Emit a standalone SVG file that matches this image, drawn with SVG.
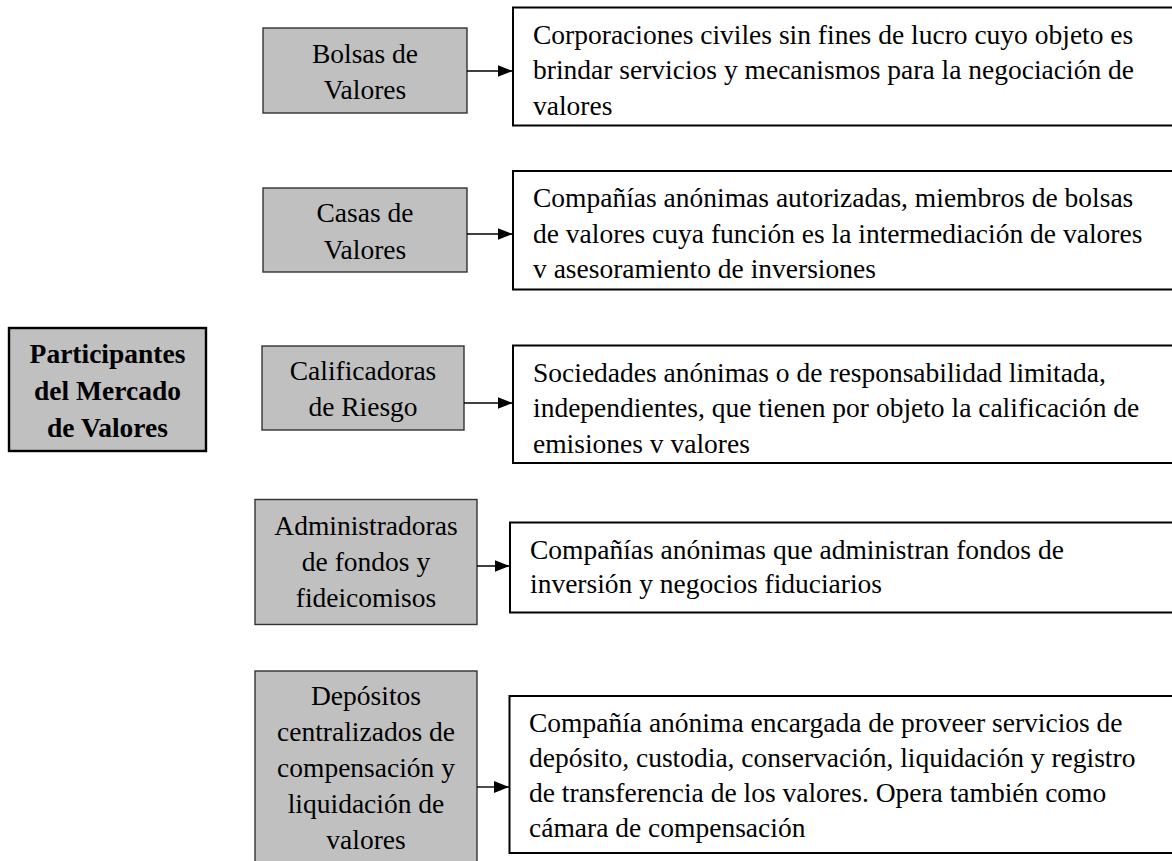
<svg xmlns="http://www.w3.org/2000/svg" width="1172" height="861" viewBox="0 0 1172 861">
<style>
.gray{fill:#c0c0c0;stroke:#333;stroke-width:1.4}
.main{fill:#c0c0c0;stroke:#000;stroke-width:2.4}
.desc{fill:#fff;stroke:#000;stroke-width:2}
.t{font-family:"Liberation Serif","Times New Roman",serif;font-size:27.5px;fill:#000}
.c{text-anchor:middle}
.b{font-weight:bold}
.conn{stroke:#000;stroke-width:1.4;fill:none}
</style>
<defs>
<marker id="arr" markerUnits="userSpaceOnUse" markerWidth="15" markerHeight="12" refX="15" refY="6" orient="auto">
<path d="M0,0 L15,6 L0,12 z" fill="#000"/>
</marker>
</defs>
<rect width="1172" height="861" fill="#fff"/>

<g id="participantes">
<rect class="main" x="9" y="328" width="197" height="123"/>
<text class="t c b" x="107.5" y="363">Participantes</text>
<text class="t c b" x="107.5" y="400">del Mercado</text>
<text class="t c b" x="107.5" y="436.5">de Valores</text>
</g>

<g id="bolsas">
<rect class="gray" x="263" y="28" width="204" height="85"/>
<text class="t c" x="365" y="63">Bolsas de</text>
<text class="t c" x="365" y="99">Valores</text>
</g>
<g id="bolsas-desc">
<rect class="desc" x="513" y="7.5" width="680" height="118"/>
<text class="t" x="533" y="43.5">Corporaciones civiles sin fines de lucro cuyo objeto es</text>
<text class="t" x="533" y="79">brindar servicios y mecanismos para la negociación de</text>
<text class="t" x="533" y="114.5">valores</text>
</g>

<g id="casas">
<rect class="gray" x="263" y="188" width="204" height="84"/>
<text class="t c" x="365" y="222">Casas de</text>
<text class="t c" x="365" y="258.5">Valores</text>
</g>
<g id="casas-desc">
<rect class="desc" x="513" y="171" width="680" height="118.5"/>
<text class="t" x="533" y="207">Compañías anónimas autorizadas, miembros de bolsas</text>
<text class="t" x="533" y="242.5">de valores cuya función es la intermediación de valores</text>
<text class="t" x="533" y="278">v asesoramiento de inversiones</text>
</g>

<g id="calificadoras">
<rect class="gray" x="262" y="346" width="202" height="84"/>
<text class="t c" x="363" y="380">Calificadoras</text>
<text class="t c" x="363" y="416">de Riesgo</text>
</g>
<g id="calificadoras-desc">
<rect class="desc" x="513" y="345.5" width="680" height="117.5"/>
<text class="t" x="533" y="381.5">Sociedades anónimas o de responsabilidad limitada,</text>
<text class="t" x="533" y="417">independientes, que tienen por objeto la calificación de</text>
<text class="t" x="533" y="452.5">emisiones v valores</text>
</g>

<g id="administradoras">
<rect class="gray" x="255" y="499.5" width="222" height="125"/>
<text class="t c" x="366" y="535">Administradoras</text>
<text class="t c" x="366" y="571">de fondos y</text>
<text class="t c" x="366" y="607">fideicomisos</text>
</g>
<g id="administradoras-desc">
<rect class="desc" x="510" y="522.5" width="680" height="90"/>
<text class="t" x="530" y="558.5">Compañías anónimas que administran fondos de</text>
<text class="t" x="530" y="593">inversión y negocios fiduciarios</text>
</g>

<g id="depositos">
<rect class="gray" x="255" y="671" width="222" height="220"/>
<text class="t c" x="366" y="705">Depósitos</text>
<text class="t c" x="366" y="741">centralizados de</text>
<text class="t c" x="366" y="777">compensación y</text>
<text class="t c" x="366" y="813">liquidación de</text>
<text class="t c" x="366" y="848.5">valores</text>
</g>
<g id="depositos-desc">
<rect class="desc" x="509.5" y="696" width="680" height="157"/>
<text class="t" x="529" y="731.5">Compañía anónima encargada de proveer servicios de</text>
<text class="t" x="529" y="767">depósito, custodia, conservación, liquidación y registro</text>
<text class="t" x="529" y="802">de transferencia de los valores. Opera también como</text>
<text class="t" x="529" y="837">cámara de compensación</text>
</g>

<g id="connectors">
<path class="conn" d="M467,71 H512.5" marker-end="url(#arr)"/>
<path class="conn" d="M467,234 H512.5" marker-end="url(#arr)"/>
<path class="conn" d="M464,403 H512.5" marker-end="url(#arr)"/>
<path class="conn" d="M477,566 H509.5" marker-end="url(#arr)"/>
<path class="conn" d="M477,787 H509" marker-end="url(#arr)"/>
</g>
</svg>
